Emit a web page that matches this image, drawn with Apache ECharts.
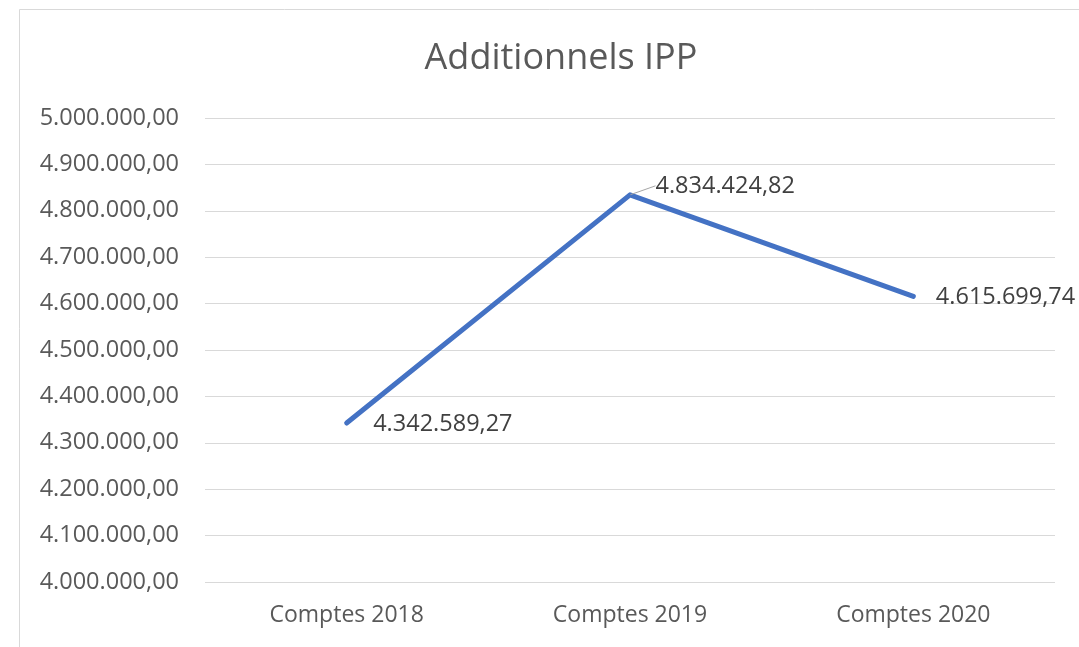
<!DOCTYPE html>
<html><head><meta charset="utf-8">
<script src="https://cdn.jsdelivr.net/npm/echarts@6/dist/echarts.min.js"></script>
<style>html,body{margin:0;padding:0;background:#fff}#c{width:1079px;height:647px}</style>
</head><body><div id="c"></div>
<script>
const categories = ['Comptes 2018', 'Comptes 2019', 'Comptes 2020'];
const values = [4342589.27, 4834424.82, 4615699.74];
const leaderShown = [false, true, false];
const titleText = 'Additionnels IPP';
const yMin = 4000000, yMax = 5000000, yStep = 100000;

function fmt(v, dec) {
  const parts = v.toFixed(dec).split('.');
  const intPart = parts[0].replace(/\B(?=(\d{3})+(?!\d))/g, '.');
  return intPart + ',' + parts[1];
}

const chart = echarts.init(document.getElementById('c'), null, {renderer: 'canvas'});
const FONT = '"Open Sans", "Noto Sans", sans-serif';
chart.setOption({
  animation: false,
  backgroundColor: '#fff',
  graphic: [{
    type: 'rect', shape: {x: 19.5, y: 9.5, width: 1200, height: 800},
    style: {fill: 'none', stroke: '#d9d9d9', lineWidth: 1}, silent: true, z: -1
  }],
  title: {
    text: titleText, left: 556, top: 36, textAlign: 'center',
    textStyle: {fontFamily: FONT, fontSize: 36, fontWeight: 'normal', color: '#595959'}
  },
  grid: {left: 205, right: 24, top: 118, bottom: 65, containLabel: false},
  xAxis: {
    type: 'category', data: categories, boundaryGap: true,
    axisLine: {show: false}, axisTick: {show: false},
    axisLabel: {margin: 22, fontFamily: FONT, fontSize: 23, color: '#595959'}
  },
  yAxis: {
    type: 'value', min: yMin, max: yMax, interval: yStep,
    axisLine: {show: false}, axisTick: {show: false},
    splitLine: {lineStyle: {color: '#d9d9d9', width: 1}},
    axisLabel: {margin: 26, fontFamily: FONT, fontSize: 23.5, color: '#595959',
      formatter: v => fmt(v, 2)}
  },
  series: [{
    type: 'line',
    data: values.map((v, i) => ({value: v, labelLine: {show: leaderShown[i]}})),
    symbol: 'circle', symbolSize: 1, showSymbol: true,
    itemStyle: {color: 'rgba(0,0,0,0)'},
    lineStyle: {color: '#4472C4', width: 5, cap: 'round', join: 'round'},
    label: {
      show: true, position: 'right', distance: 0,
      fontFamily: FONT, fontSize: 23.5, color: '#404040',
      formatter: p => fmt(p.value, 2)
    },
    labelLayout: function (params) {
      const i = params.dataIndex;
      const r = params.rect;
      if (i === 0) return {x: r.x + 27, y: r.y + 1 + r.height / 2, verticalAlign: 'middle'};
      if (i === 1) return {x: r.x + 26, y: r.y - 9 + r.height / 2, verticalAlign: 'middle'};
      return {x: r.x + 23, y: r.y + 1 + r.height / 2, verticalAlign: 'middle'};
    },
    labelLine: {show: true, showAbove: true, length2: 0, lineStyle: {color: '#a6a6a6', width: 1}}
  }]
});
</script></body></html>
